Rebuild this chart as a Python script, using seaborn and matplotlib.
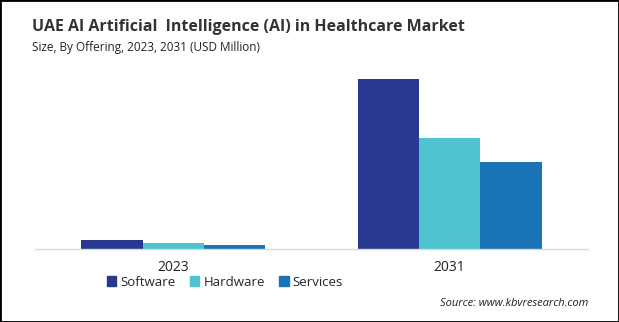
import matplotlib
matplotlib.use("Agg")
import matplotlib.pyplot as plt
import seaborn as sns
import pandas as pd
from matplotlib.patches import Rectangle

years = ["2023", "2031"]
offerings = ["Software", "Hardware", "Services"]
software = [9, 170]
hardware = [6, 111]
services = [4, 87]
colors = ["#2a3990", "#4fc3cf", "#1b74b8"]

df = pd.DataFrame({
    "Year": years * 3,
    "Offering": [o for o in offerings for _ in years],
    "Value": software + hardware + services,
})

sns.set_theme(style="white")
plt.rcParams["font.family"] = ["Open Sans", "DejaVu Sans"]

fig = plt.figure(figsize=(6.19, 3.22), dpi=100)
ax = fig.add_axes([35 / 619, 1 - 249 / 322, (588 - 35) / 619, 189 / 322])

sns.barplot(data=df, x="Year", y="Value", hue="Offering", palette=colors,
            hue_order=offerings, order=years, width=0.665, gap=0,
            saturation=1, linewidth=0, edgecolor="none", ax=ax, legend=False)

ax.set_ylim(0, 189)
ax.set_xlim(-0.5, 1.5)
for s in ["top", "right", "left"]:
    ax.spines[s].set_visible(False)
ax.spines["bottom"].set_color("#d9d9d9")
ax.spines["bottom"].set_linewidth(1)
ax.set_yticks([])
ax.set_xlabel("")
ax.set_ylabel("")
ax.tick_params(axis="x", length=0, pad=8, labelsize=10, colors="#222222")

fig.text(32 / 619, 1 - 27 / 322, "UAE AI Artificial  Intelligence (AI) in Healthcare Market",
         fontsize=11.5, fontweight="bold", color="#333333", va="center", ha="left")
fig.text(32 / 619, 1 - 47 / 322, "Size, By Offering, 2023, 2031 (USD Million)",
         fontsize=8.5, color="#222222", va="center", ha="left")

handles = [Rectangle((0, 0), 1, 1, color=c) for c in colors]
fig.legend(handles, offerings, loc="center", bbox_to_anchor=(225 / 619, 1 - 282 / 322),
           ncol=3, frameon=False, fontsize=9.5, handlelength=0.7, handleheight=0.7,
           handletextpad=0.3, columnspacing=1.1, borderaxespad=0, borderpad=0)

fig.text(588 / 619, 1 - 303 / 322, "Source: www.kbvresearch.com",
         fontsize=8, style="italic", color="#222222", va="center", ha="right")

fig.add_artist(Rectangle((0, 0), 1, 1, transform=fig.transFigure, fill=False,
                         edgecolor="black", linewidth=2))

fig.savefig("out.png", dpi=100)
